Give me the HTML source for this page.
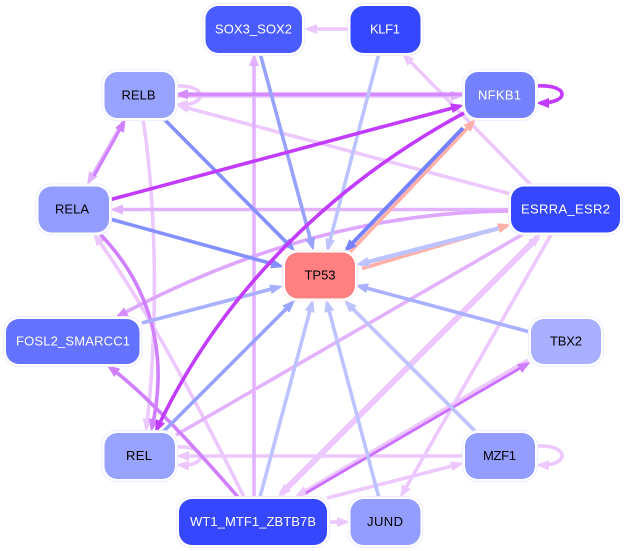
<!DOCTYPE html>
<html>
<head>
<meta charset="utf-8">
<style>
html,body{margin:0;padding:0;background:#fff;width:627px;height:551px;overflow:hidden}
svg{display:block}
text{font-family:"Liberation Sans",sans-serif;font-size:13px;text-anchor:middle}
.e{fill:none;stroke-width:3.6}
.h{fill:#fff;stroke:#eceeff;stroke-width:1}
</style>
</head>
<body>
<svg width="627" height="551" viewBox="0 0 627 551" xmlns="http://www.w3.org/2000/svg">
<defs>
<marker id="pale" markerUnits="userSpaceOnUse" markerWidth="15" markerHeight="12" viewBox="0 -6 15 12" refX="9" refY="0" orient="auto-start-reverse"><path d="M0,-5L13,0L0,5Z" fill="#ecc8ff"/></marker>
<marker id="mid" markerUnits="userSpaceOnUse" markerWidth="15" markerHeight="12" viewBox="0 -6 15 12" refX="9" refY="0" orient="auto"><path d="M0,-5L13,0L0,5Z" fill="#e3b2ff"/></marker>
<marker id="m1" markerUnits="userSpaceOnUse" markerWidth="15" markerHeight="12" viewBox="0 -6 15 12" refX="9" refY="0" orient="auto"><path d="M0,-5L13,0L0,5Z" fill="#d68bff"/></marker>
<marker id="m2" markerUnits="userSpaceOnUse" markerWidth="15" markerHeight="12" viewBox="0 -6 15 12" refX="9" refY="0" orient="auto"><path d="M0,-5L13,0L0,5Z" fill="#d07fff"/></marker>
<marker id="viv" markerUnits="userSpaceOnUse" markerWidth="15" markerHeight="12" viewBox="0 -6 15 12" refX="9" refY="0" orient="auto"><path d="M0,-5L13,0L0,5Z" fill="#c23cff"/></marker>
<marker id="b1" markerUnits="userSpaceOnUse" markerWidth="15" markerHeight="12" viewBox="0 -6 15 12" refX="9" refY="0" orient="auto"><path d="M0,-5L13,0L0,5Z" fill="#8490ff"/></marker>
<marker id="b2" markerUnits="userSpaceOnUse" markerWidth="15" markerHeight="12" viewBox="0 -6 15 12" refX="9" refY="0" orient="auto"><path d="M0,-5L13,0L0,5Z" fill="#98a2ff"/></marker>
<marker id="b3" markerUnits="userSpaceOnUse" markerWidth="15" markerHeight="12" viewBox="0 -6 15 12" refX="9" refY="0" orient="auto"><path d="M0,-5L13,0L0,5Z" fill="#a8b0ff"/></marker>
<marker id="b4" markerUnits="userSpaceOnUse" markerWidth="15" markerHeight="12" viewBox="0 -6 15 12" refX="9" refY="0" orient="auto"><path d="M0,-5L13,0L0,5Z" fill="#bcc3ff"/></marker>
<marker id="b5" markerUnits="userSpaceOnUse" markerWidth="15" markerHeight="12" viewBox="0 -6 15 12" refX="9" refY="0" orient="auto"><path d="M0,-5L13,0L0,5Z" fill="#7582ff"/></marker>
</defs>

<!-- pale edges -->
<g fill="none" stroke="#ecc8ff">
<path class="e" d="M350,29L308,29" marker-end="url(#pale)"/>
<path class="e" d="M531,185L404.8,55.9" marker-end="url(#pale)"/>
<path class="e" d="M511,194L179.9,106" marker-end="url(#pale)"/>
<path class="e" d="M175,86C208,84 208,106 179,104.5" marker-end="url(#pale)"/>
<path class="e" d="M176,447C208,445 208,467 180,465" marker-end="url(#pale)"/>
<path class="e" d="M536,446C570,444 570,466 540,465" marker-end="url(#pale)"/>
<path class="e" d="M143,119C157,210 158,330 146.5,428" marker-end="url(#pale)"/>
<path class="e" d="M244,497Q155,318 95.4,236.2" marker-end="url(#pale)"/>
<path class="e" d="M464,456L180,456" marker-end="url(#pale)"/>
<path class="e" d="M327,498L460.1,464" marker-end="url(#pale)"/>
<path class="e" d="M328,522L346,522" marker-end="url(#pale)"/>
<path class="e" d="M552,233L402,494.5" marker-end="url(#pale)"/>
<path class="e" d="M528,360L298.5,495" marker-end="url(#pale)"/>
<path class="e" style="stroke-width:6" d="M538,237L281,494" marker-start="url(#pale)" marker-end="url(#pale)"/>
</g>

<!-- mid pinks -->
<g fill="none" stroke="#e3b2ff">
<path class="e" d="M254,497L254,57" marker-end="url(#mid)"/>
<path class="e" d="M511,209.5L114,209.5" marker-end="url(#mid)"/>
<path class="e" d="M525,233L176,435"/>
<path class="e" d="M123,122L89,181.5" marker-end="url(#mid)"/>
<path class="e" d="M175,95.8L460,95.8" marker-end="url(#mid)"/>
</g>
<path class="e" stroke="#dfa6ff" d="M511,211Q313,212 118.5,316" marker-end="url(#m1)"/>
<path class="e" stroke="#d68bff" d="M464,94.2L179,94.2" marker-end="url(#m1)"/>
<path class="e" stroke="#d07fff" style="stroke-width:3" d="M94,176L123.8,122.5" marker-end="url(#m2)"/>
<path class="e" stroke="#d07fff" d="M100,234C140,275 172,340 151.9,428" marker-end="url(#m2)"/>
<path class="e" stroke="#d07fff" d="M238,497Q152,398 110,367.5" marker-end="url(#m2)"/>
<path class="e" stroke="#cc70ff" style="stroke-width:2.8" d="M306,493L527.2,364" marker-end="url(#m2)"/>

<!-- blue edges -->
<path class="e" stroke="#98a2ff" d="M260,53L312.5,247" marker-end="url(#b2)"/>
<path class="e" stroke="#bcc3ff" d="M379,53L328,248" marker-end="url(#b4)"/>
<path class="e" stroke="#8490ff" d="M164,119L292.2,248.2" marker-end="url(#b1)"/>
<path class="e" stroke="#8490ff" d="M110,219L280.1,265.9" marker-end="url(#b1)"/>
<path class="e" stroke="#a8b0ff" d="M142,323L279.1,287" marker-end="url(#b3)"/>
<path class="e" stroke="#98a2ff" d="M164,431L292.2,302.8" marker-end="url(#b2)"/>
<path class="e" stroke="#bcc3ff" d="M260,497L312,302.9" marker-end="url(#b4)"/>
<path class="e" stroke="#bcc3ff" d="M379,498L327,302.9" marker-end="url(#b4)"/>
<path class="e" stroke="#bcc3ff" d="M476,432L346.8,302.8" marker-end="url(#b4)"/>
<path class="e" stroke="#a8b0ff" d="M530,332L358.9,286" marker-end="url(#b3)"/>

<!-- paired edges: salmon under blue, salmon heads on top -->
<path class="e" stroke="#ffb0a8" d="M350,252L473.2,121.9"/>
<path class="e" stroke="#7582ff" style="stroke-width:4" d="M463,128L346.8,249.1" marker-end="url(#b5)"/>
<polygon points="476,119 470.6,131.9 463.4,124.9" fill="#ffb0a8"/>
<path class="e" stroke="#ffb0a8" d="M362,268.5L507.2,225.6"/>
<path class="e" stroke="#bcc3ff" style="stroke-width:4.4" d="M506,226.5L359.9,264" marker-end="url(#b4)"/>
<polygon points="511,224.5 499.9,232.9 497.1,223.3" fill="#ffb0a8"/>

<!-- vivid -->
<path class="e" stroke="#c23cff" d="M109,200L460.1,106" marker-end="url(#viv)"/>
<path class="e" stroke="#c23cff" d="M464,113C340,180 225,285 156.7,429.4" marker-end="url(#viv)"/>
<path class="e" stroke="#c23cff" d="M536,86C570,84 570,103 540,103" marker-end="url(#viv)"/>

<!-- nodes -->
<rect class="h" x="203" y="3.5" width="101.5" height="52" rx="15"/><rect x="205.5" y="6" width="96.5" height="47" rx="13" fill="#4a5cff"/>
<text x="253.5" y="33.5" fill="#fff" textLength="77">SOX3_SOX2</text>

<rect class="h" x="348" y="3.5" width="75" height="52" rx="15"/><rect x="350.5" y="6" width="70" height="47" rx="13" fill="#3548ff"/>
<text x="385" y="33.5" fill="#fff" textLength="30">KLF1</text>

<rect class="h" x="102" y="69.5" width="75.5" height="51" rx="15"/><rect x="104.5" y="72" width="70.5" height="46" rx="13" fill="#98a2ff"/>
<text x="138.5" y="99.5" fill="#000" textLength="34">RELB</text>

<rect class="h" x="462.5" y="69.5" width="75" height="51" rx="15"/><rect x="465" y="72" width="70" height="46" rx="13" fill="#7582ff"/>
<text x="499.5" y="99.5" fill="#fff" textLength="43">NFKB1</text>

<rect class="h" x="36" y="184" width="75.5" height="51" rx="15"/><rect x="38.5" y="186.5" width="70.5" height="46" rx="13" fill="#939dff"/>
<text x="72" y="213.5" fill="#000" textLength="34">RELA</text>

<rect class="h" x="508.5" y="184" width="114" height="51" rx="15"/><rect x="511" y="186.5" width="109" height="46" rx="13" fill="#3548ff"/>
<text x="565.5" y="213.5" fill="#fff" textLength="89">ESRRA_ESR2</text>

<rect x="282.5" y="250" width="75" height="51" rx="15" fill="#fff" stroke="#ffeaea"/><rect x="285" y="252.5" width="70" height="46" rx="13" fill="#ff8080"/>
<text x="320" y="279.5" fill="#000" textLength="31">TP53</text>

<rect class="h" x="3.5" y="316.5" width="138.5" height="50" rx="15"/><rect x="6" y="319" width="133.5" height="45" rx="13" fill="#6372ff"/>
<text x="73" y="345.5" fill="#fff" textLength="114">FOSL2_SMARCC1</text>

<rect class="h" x="528.5" y="316.5" width="75" height="50" rx="15"/><rect x="531" y="319" width="70" height="45" rx="13" fill="#a8b0ff"/>
<text x="566" y="345.5" fill="#000" textLength="32">TBX2</text>

<rect class="h" x="102" y="430.5" width="75.5" height="51" rx="15"/><rect x="104.5" y="433" width="70.5" height="46" rx="13" fill="#98a2ff"/>
<text x="139" y="460" fill="#000" textLength="26">REL</text>

<rect class="h" x="462.5" y="430.5" width="75" height="51" rx="15"/><rect x="465" y="433" width="70" height="46" rx="13" fill="#939dff"/>
<text x="499.5" y="460" fill="#000" textLength="33">MZF1</text>

<rect class="h" x="176.5" y="496.5" width="153" height="51" rx="15"/><rect x="179" y="499" width="148" height="46" rx="13" fill="#3548ff"/>
<text x="253" y="526" fill="#fff" textLength="126">WT1_MTF1_ZBTB7B</text>

<rect class="h" x="348" y="496.5" width="75" height="51" rx="15"/><rect x="350.5" y="499" width="70" height="46" rx="13" fill="#939dff"/>
<text x="385" y="526" fill="#000" textLength="36">JUND</text>
</svg>
</body>
</html>
